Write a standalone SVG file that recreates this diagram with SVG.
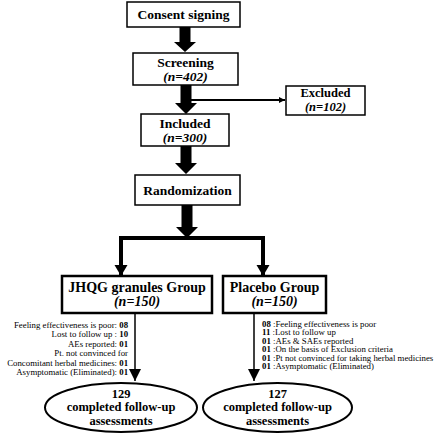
<svg xmlns="http://www.w3.org/2000/svg" width="440" height="434" viewBox="0 0 440 434">
<style>
.box{fill:#fff;stroke:#000;stroke-width:1.5}
.gbox{fill:#fff;stroke:#000;stroke-width:2.5}
.ell{fill:#fff;stroke:#000;stroke-width:2}
.t{font-family:"Liberation Serif","Times New Roman",serif;font-weight:bold;font-size:13.5px;text-anchor:middle;fill:#000}
.n{font-style:italic}
.g{font-size:14px}
.e{font-size:12.5px}
.x{font-size:12.5px}
.s{font-family:"Liberation Serif","Times New Roman",serif;font-size:8.5px;fill:#000}
.r{font-size:7.6px}
.b{font-weight:bold}
.blk{fill:#000}
.ln{stroke:#000;fill:none}
</style>
<defs>
<marker id="ah" viewBox="0 0 10 10" refX="10" refY="5" markerWidth="6" markerHeight="6" markerUnits="userSpaceOnUse" orient="auto"><path d="M0,0 L10,5 L0,10 z" fill="#000"/></marker>
<marker id="ah2" viewBox="0 0 10 10" refX="10" refY="5" markerWidth="12" markerHeight="12" markerUnits="userSpaceOnUse" orient="auto"><path d="M0,0 L10,5 L0,10 z" fill="#000"/></marker>
</defs>
<g id="connectors">
<polygon class="blk" points="179.5,27 190.5,27 190.5,42 196,42 185,52 174,42 179.5,42"/>
<polygon class="blk" points="180.5,85 191.5,85 191.5,103 197,103 186,114 175,103 180.5,103"/>
<polygon class="blk" points="180.5,146 191.5,146 191.5,163 197,163 186,174 175,163 180.5,163"/>
<polygon class="blk" points="181.5,205 192.5,205 192.5,227 198,227 187,238 176,227 181.5,227"/>
<line class="ln" x1="191" y1="100" x2="285" y2="100" stroke-width="1.8" marker-end="url(#ah)"/>
<polyline class="ln" points="121,276 121,238 263,238 263,276" stroke-width="4"/>
<polygon class="blk" points="114.5,265 127.5,265 121,276"/>
<polygon class="blk" points="256.5,265 269.5,265 263,276"/>
<line class="ln" x1="135" y1="313" x2="135" y2="381" stroke-width="1.5" marker-end="url(#ah2)"/>
<line class="ln" x1="254" y1="313" x2="254" y2="381" stroke-width="1.5" marker-end="url(#ah2)"/>
</g>
<g id="consent">
<rect class="box" x="127" y="2" width="113" height="25"/>
<text class="t" x="183.5" y="19">Consent signing</text>
</g>
<g id="screening">
<rect class="box" x="133" y="53" width="105" height="32"/>
<text class="t" x="185.5" y="67">Screening</text>
<text class="t n" x="185.5" y="81">(n=402)</text>
</g>
<g id="excluded">
<rect class="box" x="286" y="86" width="79" height="29"/>
<text class="t x" x="325.5" y="97">Excluded</text>
<text class="t x n" x="325.5" y="111">(n=102)</text>
</g>
<g id="included">
<rect class="box" x="141" y="114" width="88" height="32"/>
<text class="t" x="185" y="128">Included</text>
<text class="t n" x="185" y="142">(n=300)</text>
</g>
<g id="randomization">
<rect class="box" x="135" y="175" width="105" height="30"/>
<text class="t" x="187.5" y="195">Randomization</text>
</g>
<g id="jhqg">
<rect class="gbox" x="62" y="276" width="150" height="37"/>
<text class="t g" x="137" y="292">JHQG granules Group</text>
<text class="t g n" x="137" y="306">(n=150)</text>
</g>
<g id="placebo">
<rect class="gbox" x="223" y="276" width="103" height="37"/>
<text class="t g" x="274.5" y="292">Placebo Group</text>
<text class="t g n" x="274.5" y="306">(n=150)</text>
</g>
<g id="jhqg-reasons" text-anchor="end" transform="scale(1.035,1)">
<text class="s" x="123.7" y="328">Feeling effectiveness is poor: <tspan class="b">08</tspan></text>
<text class="s" x="123.7" y="337.45">Lost to follow up : <tspan class="b">10</tspan></text>
<text class="s" x="123.7" y="346.9">AEs reported: <tspan class="b">01</tspan></text>
<text class="s" x="123.7" y="356.35">Pt. not convinced for</text>
<text class="s" x="123.7" y="365.8">Concomitant herbal medicines: <tspan class="b">01</tspan></text>
<text class="s" x="123.7" y="375.25">Asymptomatic (Eliminated): <tspan class="b">01</tspan></text>
</g>
<g id="placebo-reasons" transform="scale(1.158,1)">
<text class="s r" x="226.25" y="327"><tspan class="b">08</tspan> :Feeling effectiveness is poor</text>
<text class="s r" x="226.25" y="335.4"><tspan class="b">11</tspan> :Lost to follow up</text>
<text class="s r" x="226.25" y="343.8"><tspan class="b">01</tspan> :AEs &amp; SAEs reported</text>
<text class="s r" x="226.25" y="352.2"><tspan class="b">01</tspan> :On the basis of Exclusion criteria</text>
<text class="s r" x="226.25" y="360.6"><tspan class="b">01</tspan> :Pt not convinced for taking herbal medicines</text>
<text class="s r" x="226.25" y="369"><tspan class="b">01</tspan> :Asymptomatic (Eliminated)</text>
</g>
<g id="jhqg-completed">
<ellipse class="ell" cx="121" cy="407.5" rx="76" ry="24.5"/>
<text class="t e" x="121" y="398">129</text>
<text class="t e" x="121" y="411">completed follow-up</text>
<text class="t e" x="121" y="425">assessments</text>
</g>
<g id="placebo-completed">
<ellipse class="ell" cx="277.5" cy="407.5" rx="74.5" ry="24.5"/>
<text class="t e" x="277.5" y="398">127</text>
<text class="t e" x="277.5" y="411">completed follow-up</text>
<text class="t e" x="277.5" y="425">assessments</text>
</g>
</svg>
